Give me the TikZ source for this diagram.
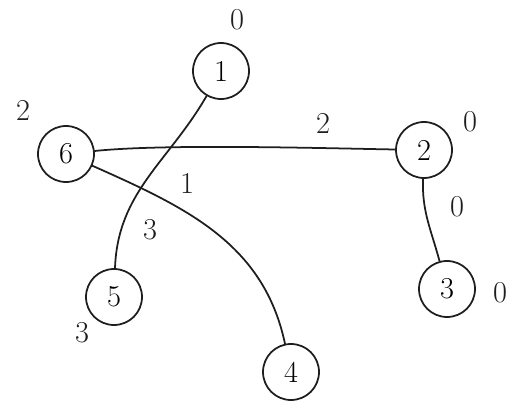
\documentclass[tikz,border=0pt]{standalone}
\begin{document}
\begin{tikzpicture}[x=1cm,y=1cm,line cap=round,line join=round,
  vert/.style={circle,draw=ink,line width=1pt,minimum size=1.12cm,inner sep=0pt,font=\LARGE},
  wt/.style={text=ink,font=\LARGE,inner sep=1pt},
  edge/.style={draw=ink,line width=1pt}]

\definecolor{ink}{RGB}{30,30,30}

\path[use as bounding box] (0,0) rectangle (10.42,8.08);

% vertices
\node[vert] (v1) at (4.42,6.66) {1};
\node[vert] (v6) at (1.32,5.00) {6};
\node[vert] (v2) at (8.48,5.08) {2};
\node[vert] (v3) at (8.94,2.30) {3};
\node[vert] (v5) at (2.28,2.14) {5};
\node[vert] (v4) at (5.82,0.64) {4};

% edges
\path[edge] (v1) to[out=-120,in=88] (v5);
\path[edge] (v6) to[out=6,in=179,looseness=.6] (v2);
\path[edge] (v6) to[out=-24,in=102] (v4);
\path[edge] (v2) to[out=-92,in=105] (v3);

% edge weights
\node[wt] (w62) at (6.46,5.62) {2};
\node[wt] (w64) at (3.74,4.42) {1};
\node[wt] (w15) at (3.00,3.48) {3};
\node[wt] (w23) at (9.14,3.94) {0};

% vertex values
\node[wt] (d1) at (4.74,7.68) {0};
\node[wt] (d6) at (0.46,5.88) {2};
\node[wt] (d2) at (9.40,5.64) {0};
\node[wt] (d3) at (10.00,2.22) {0};
\node[wt] (d5) at (1.64,1.42) {3};

\end{tikzpicture}
\end{document}
